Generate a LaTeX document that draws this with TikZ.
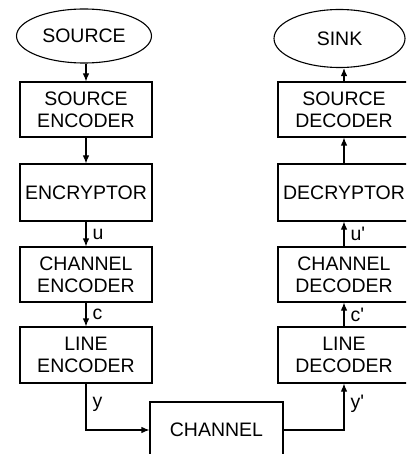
\documentclass[tikz,border=0pt]{standalone}
\usepackage{fontspec}
\setmainfont{Liberation Sans}
\usetikzlibrary{shapes.geometric,arrows.meta}
\tikzset{
  blk/.style={draw, line width=1.1pt, minimum width=132pt, minimum height=55pt,
    inner sep=0pt, align=center},
  oval/.style={draw, ellipse, line width=1.1pt, inner sep=0pt},
  arr/.style={line width=1.1pt, -{Latex[length=8pt,width=6.5pt]}},
  lbl/.style={right, inner sep=0pt, xshift=6pt}
}
\begin{document}
\begin{tikzpicture}[x=1pt, y=-1pt, font=\fontsize{19.5}{22}\selectfont]
\useasboundingbox (0,0) rectangle (406,454);
\clip (0,0) rectangle (406,454);
% transmitter side
\node[oval, minimum width=135pt, minimum height=54pt] (src) at (84,36) {SOURCE};
\node[blk] (senc) at (86,109.5) {SOURCE\\ENCODER};
\node[blk, minimum height=57pt] (encr) at (86,192.5) {ENCRYPTOR};
\node[blk] (cenc) at (86,274.5) {CHANNEL\\ENCODER};
\node[blk, minimum height=56pt] (lenc) at (86,355) {LINE\\ENCODER};
% the channel (runs off the bottom)
\node[blk, minimum width=133pt, minimum height=56pt] (chan) at (216.5,430) {CHANNEL};
% receiver side (runs off the right)
\node[oval, minimum width=131pt, minimum height=58pt] (sink) at (339.5,38.5) {SINK};
\node[blk] (sdec) at (344,109.5) {SOURCE\\DECODER};
\node[blk, minimum height=57pt] (decr) at (344,192.5) {DECRYPTOR};
\node[blk] (cdec) at (344,274.5) {CHANNEL\\DECODER};
\node[blk, minimum height=56pt] (ldec) at (344,355) {LINE\\DECODER};
% connectors
\draw[arr] (src.south -| senc.north) -- (senc.north);
\draw[arr] (senc.south) -- (encr.north);
\draw[arr] (encr.south) -- node[lbl]{u} (cenc.north);
\draw[arr] (cenc.south) -- node[lbl]{c} (lenc.north);
\draw[arr] (lenc.south) |- node[lbl, pos=0.22]{y} (chan.west);
\draw[arr] (chan.east) -| node[lbl, pos=0.78]{y\textquotesingle} (ldec.south);
\draw[arr] (ldec.north) -- node[lbl]{c\textquotesingle} (cdec.south);
\draw[arr] (cdec.north) -- node[lbl]{u\textquotesingle} (decr.south);
\draw[arr] (decr.north) -- (sdec.south);
\draw[arr] (sdec.north) -- (sdec.north |- sink.south);
\end{tikzpicture}
\end{document}
